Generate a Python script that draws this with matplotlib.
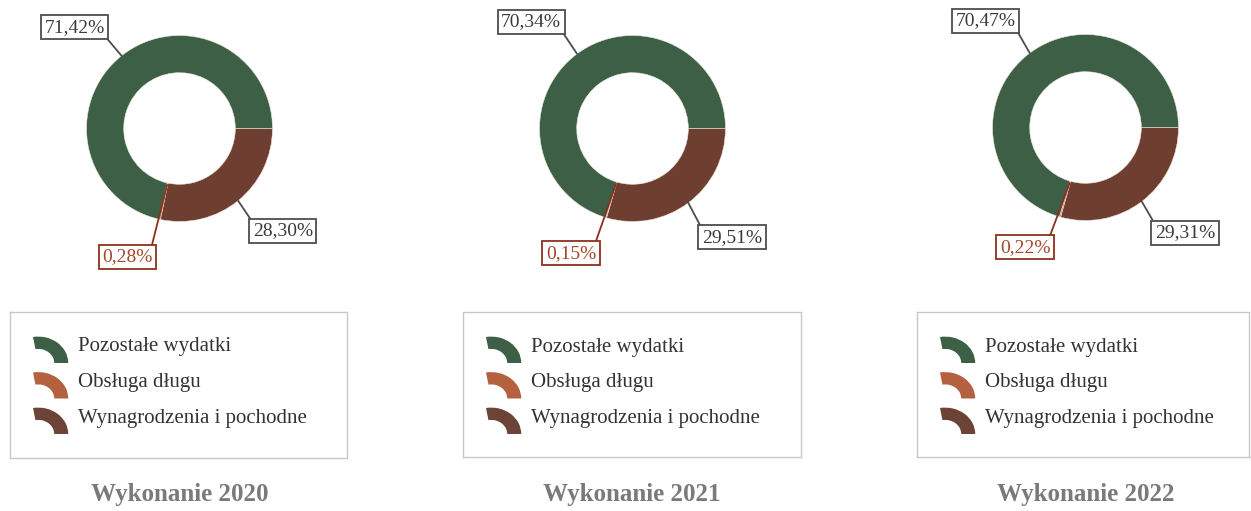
import matplotlib
matplotlib.use("Agg")
import matplotlib.pyplot as plt
from matplotlib.patches import Wedge
from matplotlib.transforms import Affine2D
import numpy as np

# ---- data ----
years = ["2020", "2021", "2022"]
categories = ["Wynagrodzenia i pochodne", "Obsługa długu", "Pozostałe wydatki"]
wynagrodzenia = [28.30, 29.51, 29.31]
obsluga = [0.28, 0.15, 0.22]
pozostale = [71.42, 70.34, 70.47]
legend_order = ["Pozostałe wydatki", "Obsługa długu", "Wynagrodzenia i pochodne"]
title_prefix = "Wykonanie"

# ---- style ----
colors = {"Wynagrodzenia i pochodne": "#6e3e31",
          "Obsługa długu": "#b5603f",
          "Pozostałe wydatki": "#3c5f46"}
legend_colors = {"Wynagrodzenia i pochodne": "#6b4437",
                 "Obsługa długu": "#b5603f",
                 "Pozostałe wydatki": "#3c5f46"}
SERIF = ["Liberation Serif", "DejaVu Serif"]
plt.rcParams["font.family"] = SERIF

W, H = 1251, 511
fig = plt.figure(figsize=(W / 100, H / 100), dpi=100)

# layout in pixels
centers = [(179.5, 128.5), (632.5, 128.5), (1085.5, 127.5)]
R = 93.0
label_offsets = [
    [(1.11, -1.10), (-0.56, -1.38), (-1.13, 1.09)],
    [(1.07, -1.17), (-0.66, -1.34), (-1.09, 1.15)],
    [(1.07, -1.13), (-0.65, -1.29), (-1.07, 1.15)],
]
relposs = [(0.0, 1.0), (0.97, 1.0), (1.0, 0.0)]
legend_boxes = [(10, 312, 347, 458), (463, 312, 801, 457), (917, 312, 1249, 457)]
title_x = [180, 632, 1086]
title_y = 494


def fx(x):
    return x / W


def fy(y):
    return 1 - y / H


for i, yr in enumerate(years):
    cx, cy = centers[i]
    ax = fig.add_axes([fx(cx - R), fy(cy + R), 2 * R / W, 2 * R / H])
    vals = [wynagrodzenia[i], obsluga[i], pozostale[i]]
    wedges, _ = ax.pie(vals, colors=[colors[c] for c in categories],
                       startangle=0, counterclock=False, radius=1.0,
                       wedgeprops=dict(width=0.40, edgecolor="#f0e6dc",
                                       linewidth=0.4))
    ax.set_xlim(-1, 1)
    ax.set_ylim(-1, 1)
    ax.set_aspect("equal")
    ax.axis("off")

    for j, (wd, v) in enumerate(zip(wedges, vals)):
        ang = np.deg2rad((wd.theta1 + wd.theta2) / 2)
        rr = 1.0 if j != 1 else 0.62
        xy = (rr * np.cos(ang), rr * np.sin(ang))
        txt = f"{v:.2f}".replace(".", ",") + "%"
        if j == 1:
            tc, ec = "#a3452b", "#8c301c"
        else:
            tc, ec = "#3a3a3a", "#4d4d4d"
        ax.annotate(txt, xy=xy, xytext=label_offsets[i][j], textcoords="data",
                    ha="center", va="center", fontsize=14, color=tc,
                    bbox=dict(boxstyle="square,pad=0.18", fc="white", ec=ec, lw=1.3),
                    arrowprops=dict(arrowstyle="-", color=ec, lw=1.3,
                                    relpos=relposs[j], shrinkA=0, shrinkB=0),
                    annotation_clip=False)

    # legend panel (pixel coordinates inside the box, y downward)
    x0, y0, x1, y1 = legend_boxes[i]
    bw, bh = x1 - x0, y1 - y0
    lax = fig.add_axes([fx(x0), fy(y1), bw / W, bh / H])
    lax.set_xlim(0, bw)
    lax.set_ylim(bh, 0)
    lax.set_xticks([])
    lax.set_yticks([])
    for s in lax.spines.values():
        s.set_edgecolor("#c8c8c8")
        s.set_linewidth(1.0)
        s.set_linestyle((0, (2, 1)))
    r_out, ring = 30.0, 14.0
    for k, name in enumerate(legend_order):
        row_c = 35 + 35.5 * k
        wcx = 23 + r_out * 0.174
        wcy = row_c + 16
        tr = Affine2D().scale(1.0, 0.88).translate(wcx, wcy) + lax.transData
        # y axis inverted: negative angles point upward on screen
        lax.add_patch(Wedge((0, 0), r_out, -100, 0, width=ring,
                            facecolor=legend_colors[name], edgecolor="none",
                            transform=tr))
        lax.text(68, row_c, name, ha="left", va="center", fontsize=15,
                 color="#333333")

    fig.text(fx(title_x[i]), fy(title_y), f"{title_prefix} {yr}",
             ha="center", va="center", fontsize=18, fontweight="bold",
             color="#7a7a7a", family=SERIF)

fig.savefig("out.png", dpi=100, facecolor="white")
